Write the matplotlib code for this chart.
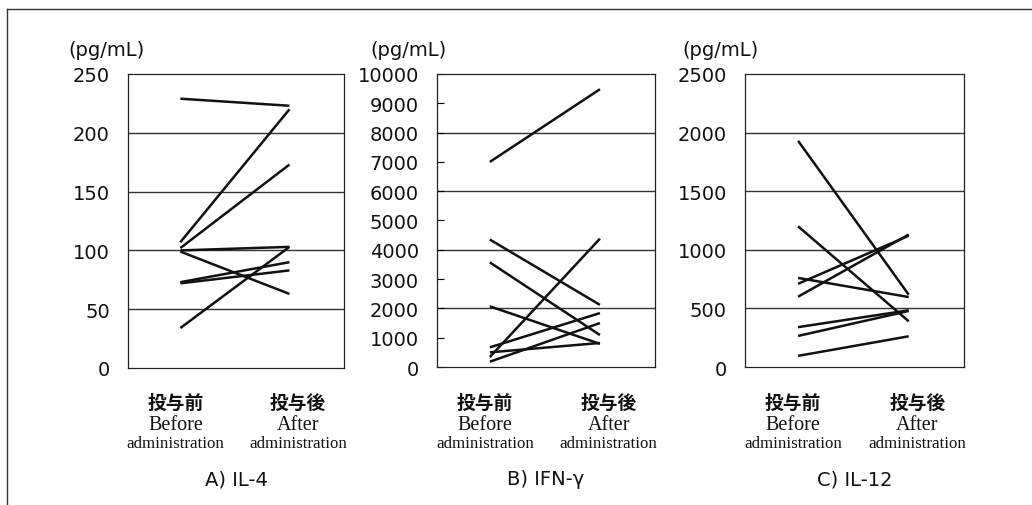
import numpy as np
import matplotlib
matplotlib.use("Agg")
import matplotlib.pyplot as plt
from matplotlib.lines import Line2D

# values, before -> after administration
il4_before = [229, 107, 102, 100, 99, 73, 72, 34]
il4_after = [223, 220, 173, 103, 63, 90, 83, 103]

ifn_before = [7000, 4350, 3570, 2070, 340, 670, 500, 180]
ifn_after = [9480, 2120, 1090, 790, 4380, 1840, 820, 1500]

il12_before = [1930, 1200, 760, 710, 600, 340, 265, 95]
il12_after = [617, 390, 597, 1120, 1130, 484, 478, 262]

panel_titles = ["A) IL-4", "B) IFN-γ", "C) IL-12"]
y_max = [250, 10000, 2500]
y_step = [50, 1000, 500]
grid_step = [50, 2000, 500]
unit_label = "(pg/mL)"
cjk_labels = ["投与前", "投与後"]
en_top = ["Before", "After"]
en_bottom = ["administration", "administration"]

before_all = [il4_before, ifn_before, il12_before]
after_all = [il4_after, ifn_after, il12_after]

W, H = 1032, 506
fig = plt.figure(figsize=(W / 100, H / 100), dpi=100)
fig.patch.set_facecolor("white")

# axes boxes in pixels (x0, y0, x1, y1)
boxes = [(128, 75, 344, 369), (437, 75, 655, 368), (745, 75, 964, 368)]
unit_x = [68, 370, 682]

ink = "#111111"

for i in range(3):
    x0, y0, x1, y1 = boxes[i]
    ax = fig.add_axes([x0 / W, 1 - y1 / H, (x1 - x0) / W, (y1 - y0) / H])
    ax.set_xlim(-0.48, 1.5)
    ax.set_ylim(0, y_max[i])

    # horizontal rules
    for g in np.arange(grid_step[i], y_max[i], grid_step[i]):
        ax.axhline(g, color="#333333", lw=1.0, zorder=1)

    for b, a in zip(before_all[i], after_all[i]):
        ax.plot([0, 1], [b, a], color=ink, lw=1.8, solid_capstyle="butt", zorder=3)

    ax.set_xticks([])
    ticks = np.arange(0, y_max[i] + 1, y_step[i])
    ax.set_yticks(ticks)
    ax.set_yticklabels([str(int(t)) for t in ticks], fontsize=14, family="DejaVu Sans", color=ink)
    ax.tick_params(axis="y", direction="in", length=5 if i == 1 else 0, pad=13, width=0.8)
    for s in ax.spines.values():
        s.set_linewidth(0.9)
        s.set_color("#222222")

    fig.text(unit_x[i] / W, 1 - 50 / H, unit_label, fontsize=14, family="DejaVu Sans",
             ha="left", va="center", color=ink)

    # x labels under each group
    for j, fx in enumerate([0.22, 0.787]):
        xp = (x0 + fx * (x1 - x0)) / W
        fig.text(xp, 1 - 403 / H, cjk_labels[j], fontsize=13.5, family="Noto Sans CJK JP",
                 weight="bold", ha="center", va="center", color=ink)
        fig.text(xp, 1 - 425 / H, en_top[j], fontsize=14.5, family="Liberation Serif",
                 ha="center", va="center", color=ink)
        fig.text(xp, 1 - 444 / H, en_bottom[j], fontsize=12.2, family="Liberation Serif",
                 ha="center", va="center", color=ink)

    fig.text((x0 + x1) / 2 / W, 1 - 480 / H, panel_titles[i], fontsize=14,
             family="DejaVu Sans", ha="center", va="center", color=ink)

# outer frame of the figure (top and left edges visible)
fig.add_artist(Line2D([7 / W, 7 / W], [0, 1 - 10 / H], transform=fig.transFigure, color="#333333", lw=1.0))
fig.add_artist(Line2D([7 / W, 1], [1 - 10 / H, 1 - 10 / H], transform=fig.transFigure, color="#333333", lw=1.0))

fig.savefig("out.png", dpi=100)
